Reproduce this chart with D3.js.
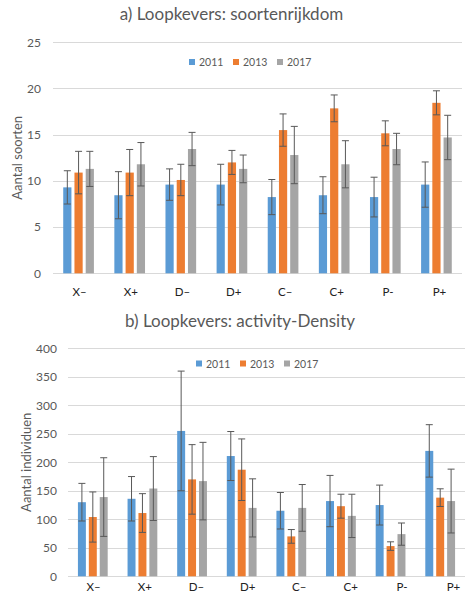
<!DOCTYPE html>
<html><head><meta charset="utf-8">
<script src="https://cdn.jsdelivr.net/npm/d3@7"></script>
<style>
body{margin:0;background:#fff;}
svg{display:block;}
text{font-family:Lato,"Open Sans",sans-serif;}
</style></head>
<body><svg id="c" width="472" height="608"></svg>
<script>
// ---------- data ----------
const categories = ["X–","X+","D–","D+","C–","C+","P-","P+"];
const years = ["2011","2013","2017"];
const colors = ["#5B9BD5","#ED7D31","#A5A5A5"];

// a) species richness (mean, error half-width)
const richness2011 = [9.3, 8.45, 9.6, 9.6, 8.25, 8.45, 8.25, 9.6];
const richness2013 = [10.9, 10.9, 10.1, 12.0, 15.5, 17.85, 15.15, 18.45];
const richness2017 = [11.3, 11.8, 13.45, 11.3, 12.8, 11.8, 13.45, 14.7];
const richnessErr2011 = [1.8, 2.55, 1.7, 2.2, 1.9, 2.0, 2.15, 2.45];
const richnessErr2013 = [2.3, 2.5, 1.7, 1.3, 1.75, 1.45, 1.35, 1.3];
const richnessErr2017 = [1.9, 2.35, 1.8, 1.5, 3.1, 2.55, 1.7, 2.4];
const richnessTicks = [0, 5, 10, 15, 20, 25];

// b) activity-density
const density2011 = [130, 136, 255, 211, 115, 132, 125, 220];
const density2013 = [104, 111, 170, 187, 70, 123, 53, 138];
const density2017 = [139, 154, 167, 120, 120, 106, 74, 132];
const densityErr2011 = [33, 39, 105, 43, 32, 45, 35, 46];
const densityErr2013 = [44, 34, 61, 54, 12, 21, 7.5, 15.5];
const densityErr2017 = [69, 56, 68, 51, 41, 38, 19.5, 56];
const densityTicks = [0, 50, 100, 150, 200, 250, 300, 350, 400];

const svg = d3.select("#c");

function drawChart(cfg){
  const g = svg.append("g");
  const y = d3.scaleLinear().domain([0, cfg.ticks[cfg.ticks.length-1]]).range([cfg.y0, cfg.y1]);
  const x0 = d3.scaleBand().domain(categories).range([cfg.xL, cfg.xR]).padding(0);
  const bw = x0.bandwidth();
  const x1 = d3.scaleBand().domain(years).range([bw*0.2, bw*0.8]).paddingInner(0.27).paddingOuter(0);
  const xl = d3.scalePoint().domain(categories).range(cfg.labelRange);

  // title
  g.append("text").attr("x", cfg.titleX).attr("y", cfg.titleY)
    .attr("text-anchor","middle").attr("font-size",17).attr("fill","#595959").text(cfg.title);

  // gridlines
  g.selectAll("line.grid").data(cfg.ticks).join("line")
    .attr("x1", cfg.xL).attr("x2", cfg.xR)
    .attr("y1", d=>Math.round(y(d))+0.5).attr("y2", d=>Math.round(y(d))+0.5)
    .attr("stroke","#D9D9D9").attr("stroke-width",1);

  // y axis tick labels via d3 axis
  const ax = d3.axisLeft(y).tickValues(cfg.ticks).tickSize(0).tickPadding(0);
  const axg = g.append("g").attr("transform",`translate(${cfg.tickRight},0)`).call(ax);
  axg.select(".domain").remove();
  axg.selectAll("text").attr("font-size",12).attr("fill","#595959").attr("font-family","Lato,sans-serif");

  // y axis title
  g.append("text").attr("transform",`translate(${cfg.yTitleX},${(cfg.y0+cfg.y1)/2}) rotate(-90)`)
    .attr("text-anchor","middle").attr("dominant-baseline","central")
    .attr("font-size",13).attr("fill","#595959").text(cfg.yTitle);

  // bars
  const rows = categories.map((c,i)=>({c, vals: years.map((yr,j)=>({yr, j, v: cfg.series[j][i], e: cfg.errs[j][i]}))}));
  const grp = g.selectAll("g.grp").data(rows).join("g").attr("transform", d=>`translate(${x0(d.c)},0)`);
  grp.selectAll("rect").data(d=>d.vals).join("rect")
    .attr("x", d=>x1(d.yr)).attr("width", x1.bandwidth())
    .attr("y", d=>y(d.v)).attr("height", d=>y(0)-y(d.v))
    .attr("fill", d=>colors[d.j]);
  // error bars
  const eb = grp.selectAll("g.eb").data(d=>d.vals).join("g")
    .attr("stroke","#595959").attr("stroke-width",1);
  eb.append("line").attr("x1", d=>x1(d.yr)+x1.bandwidth()/2).attr("x2", d=>x1(d.yr)+x1.bandwidth()/2)
    .attr("y1", d=>y(d.v+d.e)).attr("y2", d=>y(d.v-d.e));
  [1,-1].forEach(s=>{
    eb.append("line").attr("x1", d=>x1(d.yr)+x1.bandwidth()/2-3.5).attr("x2", d=>x1(d.yr)+x1.bandwidth()/2+3.5)
      .attr("y1", d=>y(d.v+s*d.e)).attr("y2", d=>y(d.v+s*d.e));
  });

  // category labels
  g.selectAll("text.cat").data(categories).join("text")
    .attr("x", d=>xl(d)).attr("y", cfg.labelY).attr("text-anchor","middle")
    .attr("font-family","'Liberation Sans',Arial,sans-serif").attr("font-size",11.5).attr("fill","#222")
    .text(d=>d);

  // legend
  const lg = g.selectAll("g.lg").data(years).join("g")
    .attr("transform",(d,i)=>`translate(${cfg.legendX[i]},${cfg.legendY})`);
  lg.append("rect").attr("x",0).attr("y",-3).attr("width",6).attr("height",6).attr("fill",(d,i)=>colors[i]);
  lg.append("text").attr("x",10).attr("y",0).attr("dominant-baseline","central")
    .attr("font-size",10.5).attr("fill","#595959").text(d=>d);
}

drawChart({
  title:"a) Loopkevers: soortenrijkdom", titleX:231.5, titleY:19.5,
  yTitle:"Aantal soorten", yTitleX:16.5,
  ticks:richnessTicks, y0:273.3, y1:42.3, xL:53, xR:462, tickRight:41,
  series:[richness2011, richness2013, richness2017],
  errs:[richnessErr2011, richnessErr2013, richnessErr2017],
  labelRange:[79.5, 439.5], labelY:296,
  legendX:[189, 233, 277], legendY:62
});
drawChart({
  title:"b) Loopkevers: activity-Density", titleX:240, titleY:326.5,
  yTitle:"Aantal individuen", yTitleX:26,
  ticks:densityTicks, y0:576.3, y1:348.3, xL:68, xR:465, tickRight:57,
  series:[density2011, density2013, density2017],
  errs:[densityErr2011, densityErr2013, densityErr2017],
  labelRange:[93.5, 453.5], labelY:591,
  legendX:[196, 240, 284], legendY:363.5
});
</script></body></html>
